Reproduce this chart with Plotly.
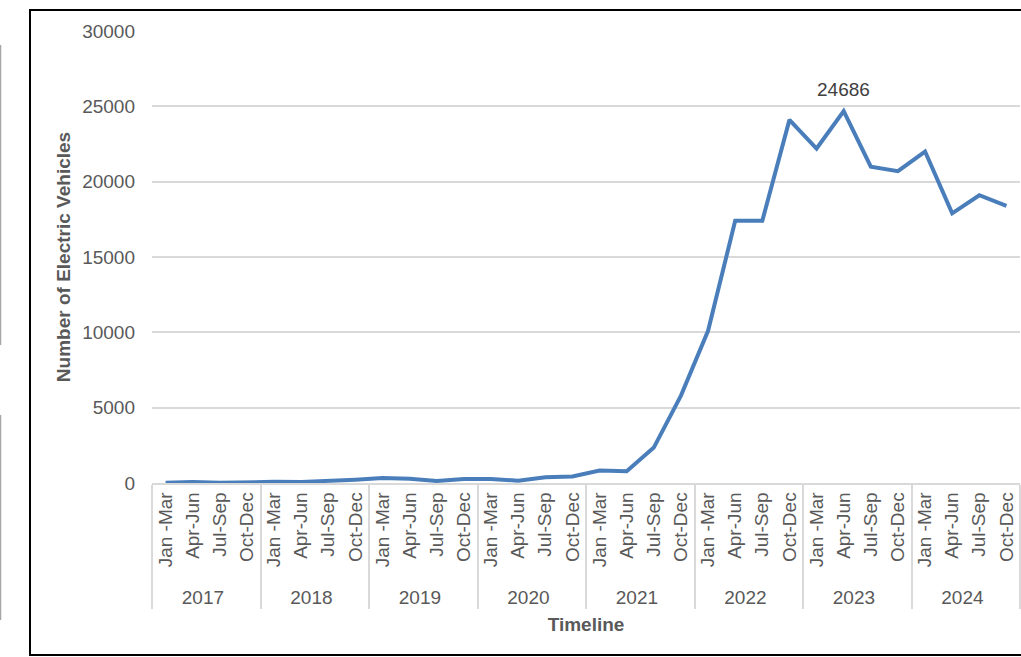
import plotly.graph_objects as go

# Quarterly registrations of electric vehicles
years = ["2017", "2018", "2019", "2020", "2021", "2022", "2023", "2024"]
quarters = ["Jan -Mar", "Apr-Jun", "Jul-Sep", "Oct-Dec"]
ev_counts = [
    20, 70, 10, 60,
    80, 70, 120, 220,
    330, 280, 140, 260,
    270, 150, 380, 430,
    830, 780, 2350, 5800,
    10100, 17400, 17400, 24100,
    22200, 24686, 21000, 20700,
    22000, 17900, 19100, 18400,
]
y_ticks = [0, 5000, 10000, 15000, 20000, 25000, 30000]

year_level = [y for y in years for _ in quarters]
quarter_level = [q for _ in years for q in quarters]

peak_idx = max(range(len(ev_counts)), key=lambda i: ev_counts[i])

W, H = 1021, 657
L, R, T, B = 152, 1, 31, 174
pw, ph = W - L - R, H - T - B


def px_x(px):
    return (px - L) / pw


def px_y(py):
    return (H - B - py) / ph


axis_font = dict(family="Liberation Sans, Arial, sans-serif", size=19, color="#595959")
title_font = dict(family="Liberation Sans, Arial, sans-serif", size=19, color="#595959")

fig = go.Figure(
    go.Scatter(
        x=[year_level, quarter_level],
        y=ev_counts,
        mode="lines",
        line=dict(color="#4a7ebb", width=4),
        hoverinfo="skip",
    )
)

fig.add_annotation(
    x=peak_idx,
    y=ev_counts[peak_idx],
    xref="x",
    yref="y",
    text=str(ev_counts[peak_idx]),
    showarrow=False,
    yshift=22,
    font=dict(family="Liberation Sans, Arial, sans-serif", size=19, color="#404040"),
)

# Chart frame and the neighbouring panel edges
fig.add_shape(
    type="rect", xref="paper", yref="paper",
    x0=px_x(30), x1=px_x(1024), y0=px_y(655), y1=px_y(10),
    line=dict(color="#000000", width=2), layer="above",
)
for y0, y1 in [(45, 345), (415, 620)]:
    fig.add_shape(
        type="line", xref="paper", yref="paper",
        x0=px_x(0.5), x1=px_x(0.5), y0=px_y(y1), y1=px_y(y0),
        line=dict(color="#a6a6a6", width=1.5),
    )

fig.update_layout(
    width=W,
    height=H,
    margin=dict(l=L, r=R, t=T, b=B, pad=0),
    paper_bgcolor="#ffffff",
    plot_bgcolor="#ffffff",
    showlegend=False,
    xaxis=dict(
        type="multicategory",
        range=[-0.5, len(ev_counts) - 0.5],
        tickangle=-90,
        tickfont=axis_font,
        showgrid=False,
        showline=True,
        linecolor="#d9d9d9",
        linewidth=1.5,
        showdividers=True,
        dividercolor="#d9d9d9",
        dividerwidth=1.5,
        ticks="",
        title=dict(text="<b>Timeline</b>", font=title_font, standoff=11),
    ),
    yaxis=dict(
        range=[0, 30000],
        tickvals=y_ticks,
        tickformat="d",
        tickfont=axis_font,
        showgrid=True,
        gridcolor="#d9d9d9",
        gridwidth=1.5,
        zeroline=False,
        showline=False,
        ticks="",
        ticklabelstandoff=16,
        title=dict(text="<b>Number of Electric Vehicles</b>", font=title_font, standoff=6),
    ),
)

fig.write_html("out.html")
